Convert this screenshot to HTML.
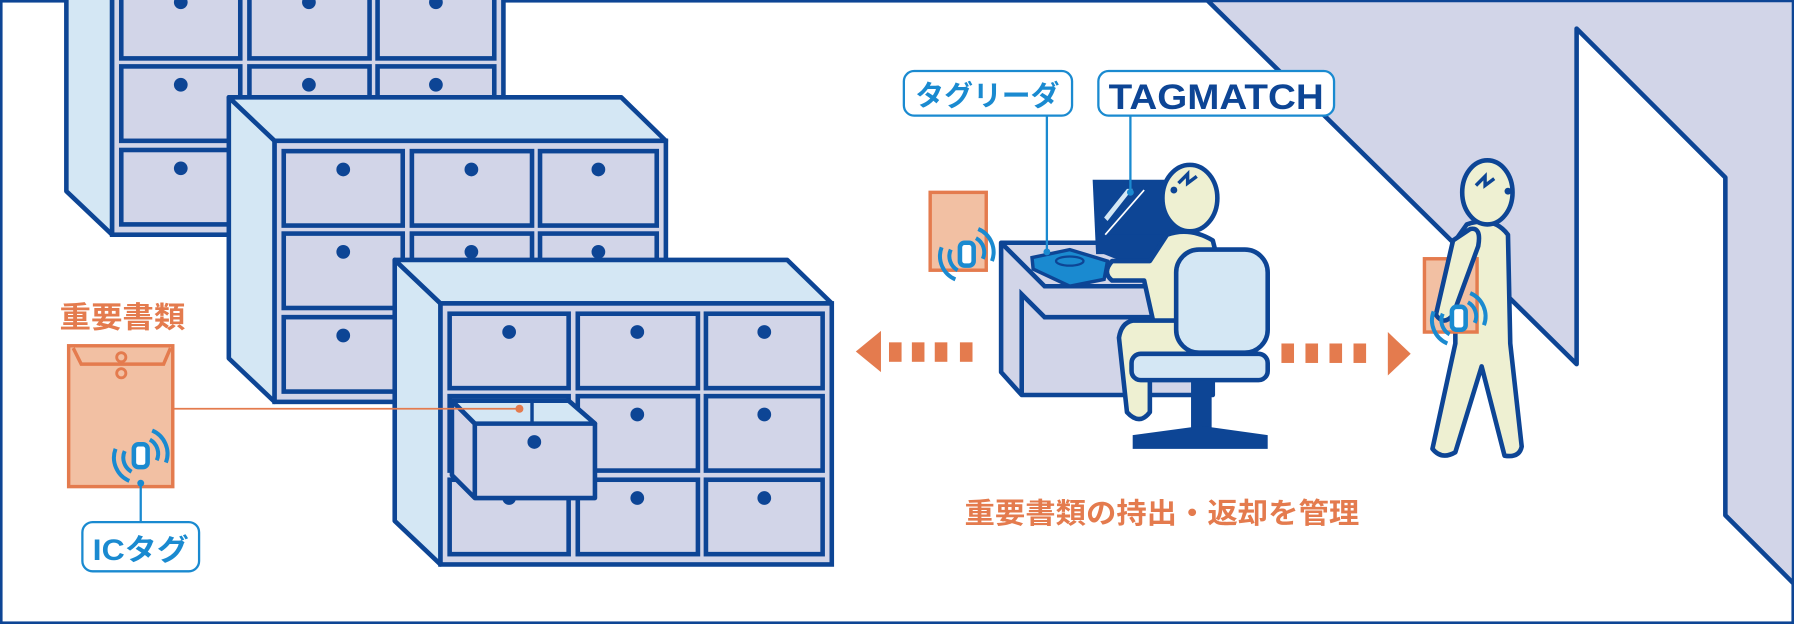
<!DOCTYPE html>
<html><head><meta charset="utf-8"><style>
html,body{margin:0;padding:0;background:#fff}
svg{display:block}
text{font-family:"Liberation Sans","Noto Sans CJK JP",sans-serif;font-weight:bold}
</style></head><body>
<svg width="1794" height="624" viewBox="0 0 1568 545" preserveAspectRatio="none" xmlns="http://www.w3.org/2000/svg">
<defs>
<g id="tag">
 <rect x="-6" y="-10" width="12" height="20" rx="4" fill="#fff" stroke="#1a8ad0" stroke-width="4"/>
 <path d="M8,-14 A14,14 0 0 1 14,4" fill="none" stroke="#1a8ad0" stroke-width="3.5"/>
 <path d="M10,-22 A22,22 0 0 1 22,6" fill="none" stroke="#1a8ad0" stroke-width="3.5"/>
 <path d="M-8,14 A14,14 0 0 1 -14,-4" fill="none" stroke="#1a8ad0" stroke-width="3.5"/>
 <path d="M-10,22 A22,22 0 0 1 -22,-6" fill="none" stroke="#1a8ad0" stroke-width="3.5"/>
</g>
<g id="cab">
 <polygon points="0,0 40,38 40,266 0,228" fill="#d4e7f4" stroke="#0d4595" stroke-width="4" stroke-linejoin="round"/>
 <polygon points="0,0 343,0 382,38 40,38" fill="#d4e7f4" stroke="#0d4595" stroke-width="4" stroke-linejoin="round"/>
 <rect x="40" y="38" width="342" height="228" fill="#d2d5e8" stroke="#0d4595" stroke-width="4"/>
 <g fill="#d2d5e8" stroke="#0d4595" stroke-width="4">
  <rect x="48" y="47" width="104" height="65"/><rect x="160" y="47" width="105" height="65"/><rect x="272" y="47" width="102" height="65"/>
  <rect x="48" y="119" width="104" height="65"/><rect x="160" y="119" width="105" height="65"/><rect x="272" y="119" width="102" height="65"/>
  <rect x="48" y="192" width="104" height="65"/><rect x="160" y="192" width="105" height="65"/><rect x="272" y="192" width="102" height="65"/>
 </g>
 <g fill="#0d4595">
  <circle cx="100" cy="63" r="6"/><circle cx="212" cy="63" r="6"/><circle cx="323" cy="63" r="6"/>
  <circle cx="100" cy="135" r="6"/><circle cx="212" cy="135" r="6"/><circle cx="323" cy="135" r="6"/>
  <circle cx="100" cy="208" r="6"/><circle cx="212" cy="208" r="6"/><circle cx="323" cy="208" r="6"/>
 </g>
</g>
</defs>
<rect x="1" y="1" width="1566" height="543" fill="#fff" stroke="#0d4595" stroke-width="2.5"/>
<polygon points="1055,0 1568,0 1568,510 1508,450 1508,155 1378,25 1378,318" fill="#d2d5e8" stroke="#0d4595" stroke-width="4" stroke-linejoin="round"/>
<use href="#cab" x="58" y="-61"/>
<use href="#cab" x="200" y="85"/>
<use href="#cab" x="345" y="227"/>
<polygon points="395,350 497,350 520,370 520,435 415,435 395,415" fill="#d2d5e8" stroke="#0d4595" stroke-width="4" stroke-linejoin="round"/>
<polygon points="395,350 497,350 520,370 415,370" fill="#d4e7f4" stroke="#0d4595" stroke-width="4" stroke-linejoin="round"/>
<line x1="395" y1="350" x2="415" y2="370" stroke="#0d4595" stroke-width="4"/>
<line x1="415" y1="370" x2="415" y2="435" stroke="#0d4595" stroke-width="4"/>
<line x1="465" y1="350" x2="465" y2="370" stroke="#0d4595" stroke-width="3"/>
<circle cx="467" cy="386" r="6" fill="#0d4595"/>
<text x="52" y="286" font-size="26" fill="#e47b4e" textLength="110" lengthAdjust="spacingAndGlyphs">重要書類</text>
<rect x="60" y="302" width="91" height="123" fill="#f2c0a3" stroke="#e47b4e" stroke-width="3"/>
<path d="M64,304 L71,318 L143,318 L149,304" fill="none" stroke="#e47b4e" stroke-width="3"/>
<circle cx="106" cy="312" r="4" fill="none" stroke="#e47b4e" stroke-width="2.5"/>
<circle cx="106" cy="326" r="4" fill="none" stroke="#e47b4e" stroke-width="2.5"/>
<line x1="152" y1="357" x2="454" y2="357" stroke="#e47b4e" stroke-width="1.5"/>
<circle cx="454" cy="357" r="3.5" fill="#e47b4e"/>
<use href="#tag" x="123" y="398"/>
<line x1="123" y1="420" x2="123" y2="456" stroke="#1a8ad0" stroke-width="2"/>
<circle cx="123" cy="422" r="3" fill="#1a8ad0"/>
<rect x="72" y="456" width="102" height="43" rx="9" fill="#fff" stroke="#1a8ad0" stroke-width="2"/>
<text x="81" y="489" font-size="26" fill="#1a8ad0" textLength="84" lengthAdjust="spacingAndGlyphs">ICタグ</text>
<g fill="#e47b4e">
 <polygon points="748,307 770,289 770,325"/>
 <rect x="777" y="299" width="11" height="17"/><rect x="797" y="299" width="11" height="17"/><rect x="817" y="299" width="11" height="17"/><rect x="839" y="299" width="11" height="17"/>
 <rect x="1120" y="300" width="11" height="17"/><rect x="1141" y="300" width="11" height="17"/><rect x="1162" y="300" width="11" height="17"/><rect x="1183" y="300" width="11" height="17"/>
 <polygon points="1213,290 1233,309 1213,328"/>
</g>
<rect x="813" y="168" width="49" height="68" fill="#f2c0a3" stroke="#e47b4e" stroke-width="3"/>
<use href="#tag" x="845" y="222"/>
<polygon points="875,212 1020,212 1060,250 1060,345 893,345 875,325" fill="#d2d5e8" stroke="#0d4595" stroke-width="4" stroke-linejoin="round"/>
<polyline points="875,212 913,250 1060,250" fill="none" stroke="#0d4595" stroke-width="4"/>
<polyline points="893,345 893,257 913,277 1060,277" fill="none" stroke="#0d4595" stroke-width="4"/>
<polygon points="902,225 935,218 968,228 965,244 935,250 903,235" fill="#1a8ad0" stroke="#0d4595" stroke-width="3"/>
<ellipse cx="935" cy="228" rx="12" ry="4" fill="none" stroke="#0d4595" stroke-width="2"/>
<polygon points="955,157 1030,157 1030,222 958,222" fill="#0d4595"/>
<polygon points="958,205 1030,205 1035,222 985,230 960,220" fill="#0d4595"/>
<line x1="966" y1="205" x2="1000" y2="166" stroke="#fff" stroke-width="1.5"/>
<polygon points="965,190 985,165 990,165 968,193" fill="#d4e7f4"/>
<ellipse cx="1040" cy="173" rx="24" ry="29" fill="#eef0d2" stroke="#0d4595" stroke-width="4"/>
<path d="M1030,160 l8,-8 l0,8 l8,-6" fill="none" stroke="#0d4595" stroke-width="3"/>
<circle cx="1026" cy="166" r="3" fill="#0d4595"/>
<path d="M1020,205 Q1040,198 1060,210 L1065,230 L1050,290 L1010,290 L1000,245 L972,245 Q963,238 972,228 L1005,228 Z" fill="#eef0d2" stroke="#0d4595" stroke-width="4" stroke-linejoin="round"/>
<path d="M990,280 L1050,280 L1050,310 L1005,310 L1005,360 Q996,372 985,360 L978,295 Q980,282 990,280 Z" fill="#eef0d2" stroke="#0d4595" stroke-width="4" stroke-linejoin="round"/>
<rect x="1028" y="218" width="80" height="90" rx="20" fill="#d4e7f4" stroke="#0d4595" stroke-width="4"/>
<rect x="989" y="309" width="119" height="23" rx="8" fill="#d4e7f4" stroke="#0d4595" stroke-width="4"/>
<rect x="1041" y="332" width="18" height="50" fill="#0d4595"/>
<polygon points="990,380 1050,372 1108,380 1108,392 990,392" fill="#0d4595"/>
<path d="M1282,196 Q1305,188 1318,205 L1320,300 L1330,390 Q1328,400 1315,398 L1295,320 L1272,395 Q1260,402 1252,392 L1272,300 L1272,210 Z" fill="#eef0d2" stroke="#0d4595" stroke-width="4" stroke-linejoin="round"/>
<rect x="1245" y="226" width="46" height="64" fill="#f2c0a3" stroke="#e47b4e" stroke-width="3"/>
<path d="M1285,200 Q1295,198 1292,215 L1270,275 Q1262,285 1255,275 L1270,210 Z" fill="#eef0d2" stroke="#0d4595" stroke-width="4" stroke-linejoin="round"/>
<use href="#tag" x="1275" y="278"/>
<ellipse cx="1300" cy="168" rx="22" ry="28" fill="#eef0d2" stroke="#0d4595" stroke-width="4"/>
<path d="M1290,162 l8,-8 l0,8 l8,-6" fill="none" stroke="#0d4595" stroke-width="3"/>
<circle cx="1318" cy="167" r="3" fill="#0d4595"/>
<line x1="915" y1="101" x2="915" y2="220" stroke="#1a8ad0" stroke-width="2"/>
<circle cx="915" cy="220" r="3" fill="#1a8ad0"/>
<line x1="988" y1="101" x2="988" y2="168" stroke="#1a8ad0" stroke-width="2"/>
<circle cx="988" cy="168" r="3" fill="#1a8ad0"/>
<rect x="790" y="62" width="147" height="39" rx="9" fill="#fff" stroke="#1a8ad0" stroke-width="2"/>
<text x="800" y="92" font-size="25" fill="#1a8ad0" textLength="126" lengthAdjust="spacingAndGlyphs">タグリーダ</text>
<rect x="960" y="62" width="206" height="39" rx="9" fill="#fff" stroke="#1a8ad0" stroke-width="2"/>
<text x="969" y="95" font-size="31" fill="#0d4595" textLength="188" lengthAdjust="spacingAndGlyphs">TAGMATCH</text>
<text x="843" y="457" font-size="25" fill="#e47b4e" textLength="345" lengthAdjust="spacingAndGlyphs">重要書類の持出・返却を管理</text>
</svg>
</body></html>
